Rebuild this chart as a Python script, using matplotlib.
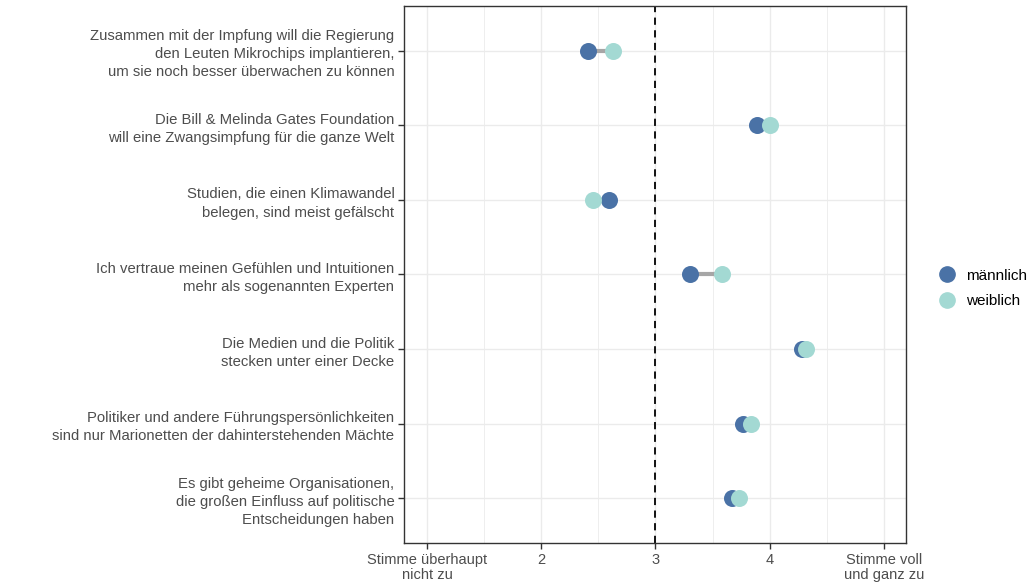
import matplotlib.pyplot as plt
from matplotlib.lines import Line2D

plt.rcParams['font.family'] = ['Liberation Sans', 'DejaVu Sans']

# Aussagen (von oben nach unten)
statements = [
    "Zusammen mit der Impfung will die Regierung\nden Leuten Mikrochips implantieren,\num sie noch besser überwachen zu können",
    "Die Bill & Melinda Gates Foundation\nwill eine Zwangsimpfung für die ganze Welt",
    "Studien, die einen Klimawandel\nbelegen, sind meist gefälscht",
    "Ich vertraue meinen Gefühlen und Intuitionen\nmehr als sogenannten Experten",
    "Die Medien und die Politik\nstecken unter einer Decke",
    "Politiker und andere Führungspersönlichkeiten\nsind nur Marionetten der dahinterstehenden Mächte",
    "Es gibt geheime Organisationen,\ndie großen Einfluss auf politische\nEntscheidungen haben",
]
maennlich = [2.41, 3.885, 2.595, 3.30, 4.28, 3.765, 3.67]
weiblich = [2.63, 4.005, 2.45, 3.58, 4.32, 3.835, 3.73]

x_ticks = [1, 2, 3, 4, 5]
x_ticklabels = ["Stimme überhaupt\nnicht zu", "2", "3", "4", "Stimme voll\nund ganz zu"]

col_m = "#4A72A6"
col_w = "#A3D9D3"

fig = plt.figure(figsize=(10.31, 5.86), dpi=100)
ax = fig.add_axes([0.392, 0.0734, 0.487, 0.9164])

n = len(statements)
ypos = [n - i for i in range(n)]

# Gitter
for x in [1, 1.5, 2, 2.5, 3, 3.5, 4, 4.5, 5]:
    ax.axvline(x, color="#EBEBEB", lw=1.0 if x % 1 == 0 else 0.6, zorder=0)
for y in ypos:
    ax.axhline(y, color="#EBEBEB", lw=1.0, zorder=0)

ax.axvline(3, color="black", lw=1.3, ls=(0, (4, 3)), zorder=1)

for y, m, w in zip(ypos, maennlich, weiblich):
    ax.plot([m, w], [y, y], color="#A6A6A6", lw=3, zorder=2, solid_capstyle="butt")

ax.scatter(maennlich, ypos, s=150, color=col_m, zorder=3, linewidths=0)
ax.scatter(weiblich, ypos, s=150, color=col_w, zorder=4, linewidths=0)

ax.set_xlim(0.8, 5.195)
ax.set_ylim(0.4, n + 0.6)
ax.set_xticks(x_ticks)
ax.set_xticklabels(x_ticklabels, fontsize=10.5, color="#4D4D4D", linespacing=1.15)
ax.set_yticks(ypos)
ax.set_yticklabels(statements, fontsize=10.75, color="#4D4D4D", linespacing=1.38, ha="right")
ax.tick_params(axis="both", length=4, width=1, color="#333333", pad=3)

for s in ax.spines.values():
    s.set_color("#333333")
    s.set_linewidth(1.0)

handles = [
    Line2D([], [], marker="o", ls="", color=col_m, markersize=11, label="männlich"),
    Line2D([], [], marker="o", ls="", color=col_w, markersize=11, label="weiblich"),
]
fig.legend(handles=handles, loc="center left", bbox_to_anchor=(0.89, 0.508),
           frameon=False, fontsize=11, handletextpad=0.25, labelspacing=0.75)

fig.savefig("out.png", dpi=100)
